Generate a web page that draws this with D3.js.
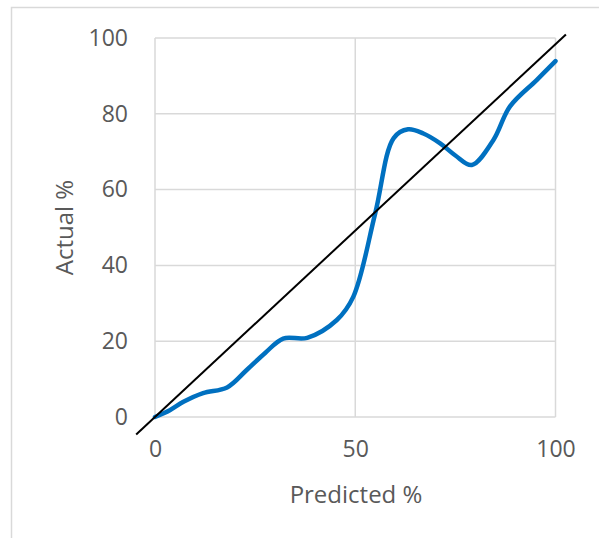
<!DOCTYPE html>
<html><head><meta charset="utf-8">
<script src="https://cdn.jsdelivr.net/npm/d3@7/dist/d3.min.js"></script>
<style>body{margin:0;background:#fff}svg{display:block}</style>
</head><body>
<script>
const predicted = [0, 3.7, 7.1, 12, 18, 22.9, 27.5, 32, 38, 45.4, 49.5, 55, 59.6, 63.2, 67, 71.2, 75, 79.1, 84.5, 88.6, 95.3, 100];
const actual    = [0, 1.8, 4.0, 6.3, 7.8, 12.4, 16.9, 20.7, 20.9, 25.6, 31.7, 53.8, 73.6, 75.9, 74.8, 72.2, 69.0, 66.5, 73.1, 81.9, 88.9, 93.9];
const refLine = [[-4.7, -4.6], [102.6, 100.9]];
const xTicks = [0, 50, 100];
const yTicks = [0, 20, 40, 60, 80, 100];
const xTitle = "Predicted %";
const yTitle = "Actual %";

const W = 599, H = 538;
const svg = d3.select("body").append("svg").attr("width", W).attr("height", H);
const font = "'Open Sans', sans-serif";
const grey = "#d9d9d9", txt = "#595959";

svg.append("rect").attr("x", 11.5).attr("y", 7.5).attr("width", 700).attr("height", 700)
  .attr("fill", "none").attr("stroke", grey).attr("stroke-width", 1.5);

const x = d3.scaleLinear().domain([0, 100]).range([155, 555.5]);
const y = d3.scaleLinear().domain([0, 100]).range([417, 38]);

const g = svg.append("g");
g.selectAll(".hg").data(yTicks).join("line")
  .attr("x1", x(0)).attr("x2", x(100)).attr("y1", d => y(d)).attr("y2", d => y(d))
  .attr("stroke", grey).attr("stroke-width", 1.5);
g.selectAll(".vg").data(xTicks).join("line")
  .attr("y1", y(0)).attr("y2", y(100)).attr("x1", d => x(d)).attr("x2", d => x(d))
  .attr("stroke", grey).attr("stroke-width", 1.5);

const xa = svg.append("g").attr("transform", `translate(0,${y(0)})`)
  .call(d3.axisBottom(x).tickValues(xTicks).tickSize(0).tickPadding(24));
xa.select(".domain").remove();
xa.selectAll("text").attr("font-family", font).attr("font-size", 23).attr("fill", txt);

const ya = svg.append("g").attr("transform", `translate(${x(0)},0)`)
  .call(d3.axisLeft(y).tickValues(yTicks).tickSize(0).tickPadding(27));
ya.select(".domain").remove();
ya.selectAll("text").attr("font-family", font).attr("font-size", 23).attr("fill", txt);

svg.append("text").attr("x", 356).attr("y", 503).attr("text-anchor", "middle")
  .attr("font-family", font).attr("font-size", 24).attr("fill", txt).text(xTitle);
svg.append("text").attr("transform", `translate(73,${(y(0)+y(100))/2}) rotate(-90)`)
  .attr("text-anchor", "middle").attr("font-family", font).attr("font-size", 24)
  .attr("fill", txt).text(yTitle);

const pts = predicted.map((p, i) => [p, actual[i]]);
svg.append("path").datum(pts)
  .attr("d", d3.line().x(d => x(d[0])).y(d => y(d[1])).curve(d3.curveCatmullRom.alpha(0.5)))
  .attr("fill", "none").attr("stroke", "#0070C0").attr("stroke-width", 4.5).attr("stroke-linecap", "round");

svg.append("path").datum(refLine)
  .attr("d", d3.line().x(d => x(d[0])).y(d => y(d[1])))
  .attr("fill", "none").attr("stroke", "#000").attr("stroke-width", 2);
</script>
</body></html>
